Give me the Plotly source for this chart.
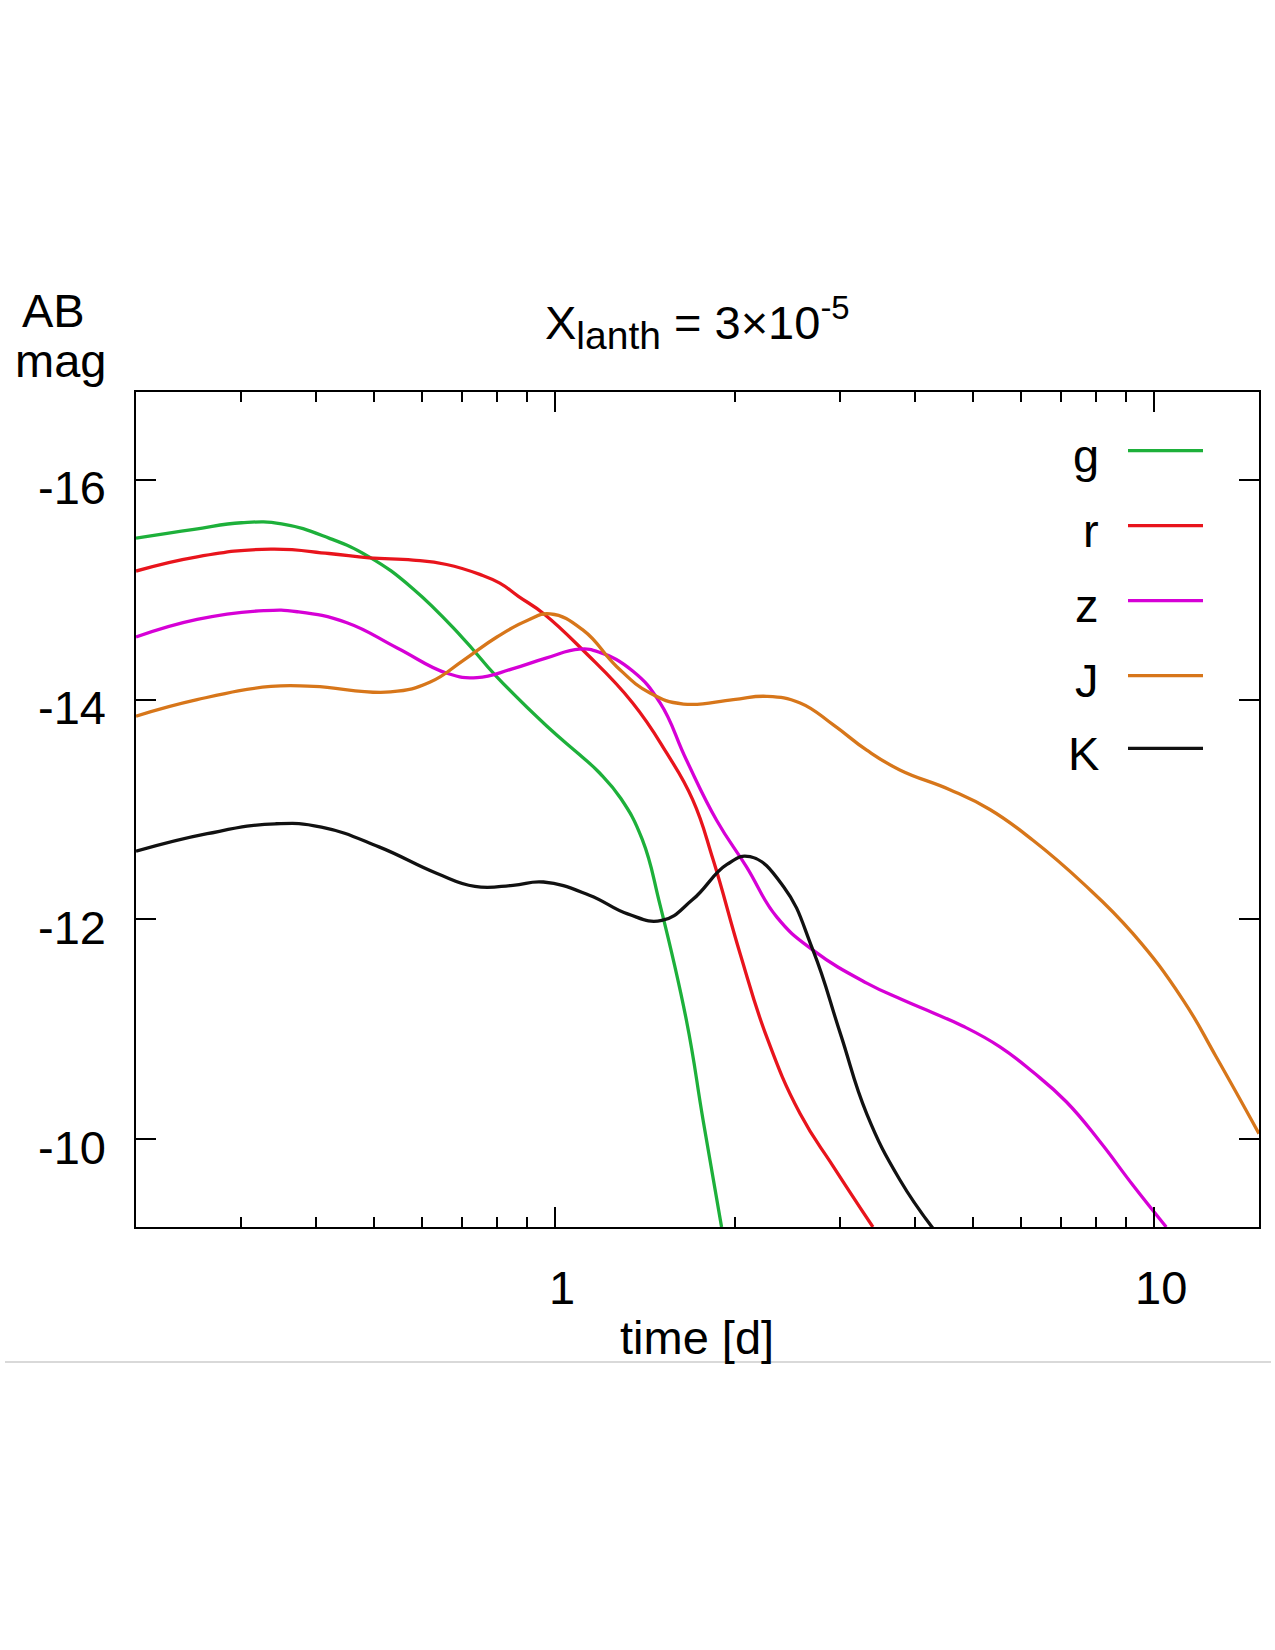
import math
import plotly.graph_objects as go

# ---------------- data ----------------
g_t = [0.2, 0.25, 0.30, 0.35, 0.42, 0.49, 0.58, 0.70, 0.80, 0.97, 1.10, 1.19, 1.29, 1.40, 1.50, 1.66, 1.77, 1.90]
g_m = [-15.47, -15.55, -15.61, -15.60, -15.47, -15.30, -15.01, -14.57, -14.21, -13.76, -13.50, -13.33, -13.10, -12.73, -12.13, -11.08, -10.17, -9.20]

r_t = [0.2, 0.253, 0.336, 0.42, 0.49, 0.58, 0.66, 0.75, 0.81, 0.87, 0.96, 1.12, 1.35, 1.54, 1.70, 1.84, 2.04, 2.26, 2.57, 2.92, 3.40]
r_m = [-15.17, -15.30, -15.37, -15.33, -15.29, -15.27, -15.23, -15.14, -15.06, -14.94, -14.78, -14.44, -13.97, -13.51, -13.09, -12.54, -11.69, -10.93, -10.23, -9.75, -9.20]

z_t = [0.2, 0.253, 0.327, 0.372, 0.45, 0.546, 0.661, 0.742, 0.85, 0.97, 1.10, 1.19, 1.35, 1.50, 1.66, 1.865, 2.09, 2.35, 2.70, 3.32, 3.80, 4.28, 4.80, 5.54, 6.29, 7.15, 8.13, 9.24, 10.5]
z_m = [-14.57, -14.73, -14.81, -14.80, -14.70, -14.47, -14.24, -14.20, -14.28, -14.38, -14.46, -14.43, -14.26, -13.97, -13.45, -12.90, -12.48, -12.02, -11.72, -11.42, -11.27, -11.15, -11.03, -10.84, -10.61, -10.34, -9.98, -9.58, -9.20]

j_t = [0.2, 0.253, 0.336, 0.396, 0.532, 0.62, 0.705, 0.801, 0.90, 0.983, 1.117, 1.27, 1.443, 1.641, 1.988, 2.26, 2.57, 2.92, 3.32, 3.77, 4.57, 5.33, 6.29, 7.62, 9.24, 11.19, 12.72, 15.0]
j_m = [-13.85, -14.00, -14.12, -14.12, -14.07, -14.16, -14.36, -14.57, -14.72, -14.78, -14.63, -14.30, -14.06, -13.96, -14.00, -14.03, -13.97, -13.77, -13.54, -13.36, -13.18, -13.00, -12.72, -12.33, -11.87, -11.27, -10.75, -10.05]

k_t = [0.2, 0.263, 0.342, 0.408, 0.509, 0.635, 0.736, 0.852, 0.958, 1.143, 1.324, 1.51, 1.70, 1.94, 2.12, 2.41, 2.70, 3.00, 3.32, 3.77, 4.28]
k_m = [-12.62, -12.78, -12.87, -12.84, -12.66, -12.42, -12.30, -12.31, -12.34, -12.22, -12.05, -11.99, -12.18, -12.50, -12.57, -12.30, -11.72, -10.96, -10.23, -9.63, -9.19]

band_names = ["g", "r", "z", "J", "K"]
band_colors = ["#1db03a", "#e8141c", "#d600d6", "#d7761a", "#111111"]

x_ticks = [1, 10]
x_minor = [0.3, 0.4, 0.5, 0.6, 0.7, 0.8, 0.9, 2, 3, 4, 5, 6, 7, 8, 9]
y_ticks = [-16, -14, -12, -10]

# ---------------- layout geometry (pixels) ----------------
W, H = 1275, 1650
L, R, T, B = 136, 1259, 392, 1227
FONT = "Liberation Sans, Arial, Helvetica, sans-serif"
FS = 47


def px(x):
    return (x - L) / (R - L)


def py(y):
    return (B - y) / (B - T)


def tfont():
    return dict(size=FS, color="black", family=FONT)


fig = go.Figure()
series = [(g_t, g_m), (r_t, r_m), (z_t, z_m), (j_t, j_m), (k_t, k_m)]
for (t, m), name, col in zip(series, band_names, band_colors):
    fig.add_trace(go.Scatter(x=t, y=m, mode="lines", name=name,
                             line=dict(color=col, width=3.3, shape="spline", smoothing=1.3),
                             showlegend=False))

annotations = []
shapes = []
# manual legend (gnuplot style: label left, line sample right)
leg_y = [450.7, 525.7, 600.7, 675.7, 748.3]
for name, col, yy in zip(band_names, band_colors, leg_y):
    annotations.append(dict(x=px(1101), y=py(yy + 5), xref="paper", yref="paper",
                            text=name, showarrow=False, xanchor="right", yanchor="middle",
                            font=tfont()))
    shapes.append(dict(type="line", xref="paper", yref="paper",
                       x0=px(1128), x1=px(1203), y0=py(yy), y1=py(yy),
                       line=dict(color=col, width=3.3)))

# tick labels (gnuplot places them slightly offset)
for v in x_ticks:
    annotations.append(dict(x=math.log10(v), y=py(1287), xref="x", yref="paper",
                            text=str(v), showarrow=False, xanchor="center", yanchor="middle",
                            xshift=7, font=tfont()))
for v in y_ticks:
    annotations.append(dict(x=px(108), y=v, xref="paper", yref="y",
                            text=str(v), showarrow=False, xanchor="right", yanchor="middle",
                            yshift=-8, font=tfont()))

# title and axis labels
annotations.append(dict(x=px(697), y=py(359), xref="paper", yref="paper",
                        text="X<sub><span style=\"font-size:39px\">lanth</span></sub> = 3×10<sup>-5</sup>",
                        showarrow=False, xanchor="center", yanchor="bottom", font=tfont()))
annotations.append(dict(x=px(53), y=py(310), xref="paper", yref="paper", text="AB",
                        showarrow=False, xanchor="center", yanchor="middle", font=tfont()))
annotations.append(dict(x=px(60), y=py(361), xref="paper", yref="paper", text="mag",
                        showarrow=False, xanchor="center", yanchor="middle", font=tfont()))
annotations.append(dict(x=px(697), y=py(1337), xref="paper", yref="paper", text="time [d]",
                        showarrow=False, xanchor="center", yanchor="middle", font=tfont()))

# page separator line
shapes.append(dict(type="line", xref="paper", yref="paper",
                   x0=px(5), x1=px(1271), y0=py(1362), y1=py(1362),
                   line=dict(color="#cccccc", width=1.5)))

fig.update_layout(
    width=W, height=H,
    margin=dict(l=L, r=W - R, t=T, b=H - B, pad=0),
    paper_bgcolor="white", plot_bgcolor="white",
    font=dict(family=FONT, size=FS, color="black"),
    annotations=annotations, shapes=shapes,
    showlegend=False,
)
fig.update_xaxes(
    type="log", range=[math.log10(0.2), math.log10(15)],
    tickmode="array", tickvals=x_ticks, showticklabels=False,
    ticks="inside", ticklen=20, tickwidth=2, tickcolor="black",
    minor=dict(tickmode="array", tickvals=x_minor, ticks="inside", ticklen=10,
               tickwidth=2, tickcolor="black", showgrid=False),
    showline=True, linecolor="black", linewidth=2, mirror="ticks",
    showgrid=False, zeroline=False,
)
fig.update_yaxes(
    range=[-9.2, -16.8],
    tickmode="array", tickvals=y_ticks, showticklabels=False,
    ticks="inside", ticklen=20, tickwidth=2, tickcolor="black",
    showline=True, linecolor="black", linewidth=2, mirror="ticks",
    showgrid=False, zeroline=False,
)

fig.write_html("out.html")
